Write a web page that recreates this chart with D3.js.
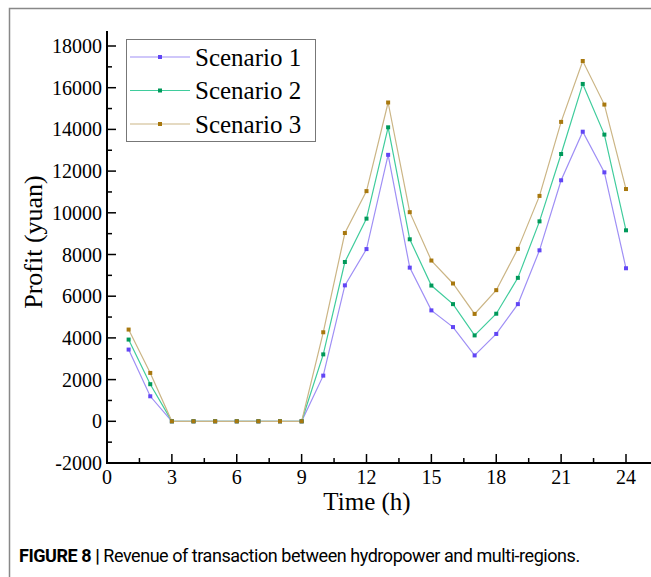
<!DOCTYPE html>
<html>
<head>
<meta charset="utf-8">
<script src="https://cdn.jsdelivr.net/npm/d3@7"></script>
<style>
	body { margin: 0; background: #fff; }
	svg { display: block; }
</style>
</head>
<body>
<div id="chart"></div>
<script>
const hours = d3.range(1, 25)
const scenario1 = [3440, 1200, 0, 0, 0, 0, 0, 0, 0, 2190, 6520, 8260, 12780, 7370, 5320, 4520, 3160, 4190, 5620, 8200, 11560, 13890, 11940, 7340]
const scenario2 = [3920, 1780, 0, 0, 0, 0, 0, 0, 0, 3210, 7640, 9720, 14100, 8730, 6510, 5620, 4120, 5160, 6880, 9590, 12820, 16180, 13750, 9160]
const scenario3 = [4400, 2320, 0, 0, 0, 0, 0, 0, 0, 4270, 9030, 11040, 15290, 10030, 7710, 6610, 5150, 6290, 8270, 10810, 14360, 17280, 15190, 11140]
const seriesNames = ["Scenario 1", "Scenario 2", "Scenario 3"]
const xTicks = [0, 3, 6, 9, 12, 15, 18, 21, 24]
const yTicks = [-2000, 0, 2000, 4000, 6000, 8000, 10000, 12000, 14000, 16000, 18000]

const lineColors = ["#9f8ff5", "#3fcc9c", "#cbb585"]
const markColors = ["#6146f5", "#00995a", "#a8780e"]

const width = 651
const height = 577
const svg = d3.select("#chart").append("svg")
	.attr("width", width)
	.attr("height", height)

// figure frame (right and bottom cut off in the original)
svg.append("path")
	.attr("d", "M9.5,577 V8.5 H651")
	.attr("fill", "none")
	.attr("stroke", "#888")
	.attr("stroke-width", 1.5)

const x = d3.scaleLinear().domain([0, 24]).range([107, 626])
const y = d3.scaleLinear().domain([-2000, 18000]).range([463, 46])

const serif = "'Liberation Serif', 'Times New Roman', serif"

// y axis
const yAxis = svg.append("g").attr("transform", `translate(${x(0)},0)`)
yAxis.append("line")
	.attr("y1", y(-2000) + 1).attr("y2", 31)
	.attr("stroke", "#000").attr("stroke-width", 2)
yAxis.selectAll(".minor")
	.data(d3.range(-1000, 19000, 2000))
	.enter().append("line")
	.attr("x1", 0).attr("x2", 5)
	.attr("y1", d => y(d)).attr("y2", d => y(d))
	.attr("stroke", "#000").attr("stroke-width", 1.5)
yAxis.selectAll(".major")
	.data(yTicks)
	.enter().append("line")
	.attr("x1", 0).attr("x2", 9)
	.attr("y1", d => y(d)).attr("y2", d => y(d))
	.attr("stroke", "#000").attr("stroke-width", 1.5)
yAxis.selectAll("text")
	.data(yTicks)
	.enter().append("text")
	.attr("x", -5)
	.attr("y", d => y(d))
	.attr("dy", "0.35em")
	.attr("text-anchor", "end")
	.attr("font-family", serif)
	.attr("font-size", 20)
	.text(d => d)

// x axis
const xAxis = svg.append("g").attr("transform", `translate(0,${y(-2000)})`)
xAxis.append("line")
	.attr("x1", x(0) - 1).attr("x2", width)
	.attr("stroke", "#000").attr("stroke-width", 2)
xAxis.selectAll(".minor")
	.data(d3.range(1.5, 25, 3))
	.enter().append("line")
	.attr("x1", d => x(d)).attr("x2", d => x(d))
	.attr("y1", 0).attr("y2", -5)
	.attr("stroke", "#000").attr("stroke-width", 1.5)
xAxis.selectAll(".major")
	.data(xTicks)
	.enter().append("line")
	.attr("x1", d => x(d)).attr("x2", d => x(d))
	.attr("y1", 0).attr("y2", -9)
	.attr("stroke", "#000").attr("stroke-width", 1.5)
xAxis.selectAll("text")
	.data(xTicks)
	.enter().append("text")
	.attr("x", d => x(d))
	.attr("y", 21)
	.attr("text-anchor", "middle")
	.attr("font-family", serif)
	.attr("font-size", 20)
	.text(d => d)

// axis titles
svg.append("text")
	.attr("transform", `translate(42,242) rotate(-90)`)
	.attr("text-anchor", "middle")
	.attr("font-family", serif)
	.attr("font-size", 26)
	.text("Profit (yuan)")
svg.append("text")
	.attr("x", 367)
	.attr("y", 510)
	.attr("text-anchor", "middle")
	.attr("font-family", serif)
	.attr("font-size", 25)
	.text("Time (h)")

// series
const allSeries = [scenario1, scenario2, scenario3]
const line = d3.line()
	.x((d, i) => x(hours[i]))
	.y(d => y(d))

allSeries.forEach((values, s) => {
	svg.append("path")
		.datum(values)
		.attr("d", line)
		.attr("fill", "none")
		.attr("stroke", lineColors[s])
		.attr("stroke-width", 1.2)
})
allSeries.forEach((values, s) => {
	svg.append("g").selectAll("rect")
		.data(values)
		.enter().append("rect")
		.attr("x", (d, i) => x(hours[i]) - 2)
		.attr("y", d => y(d) - 2)
		.attr("width", 4)
		.attr("height", 4)
		.attr("fill", markColors[s])
})

// legend
const legend = svg.append("g")
legend.append("rect")
	.attr("x", 126.5).attr("y", 39.5)
	.attr("width", 189).attr("height", 102)
	.attr("fill", "#fff")
	.attr("stroke", "#777")
	.attr("stroke-width", 1)
seriesNames.forEach((name, s) => {
	const ly = 57 + s * 33.5
	legend.append("line")
		.attr("x1", 130).attr("x2", 190)
		.attr("y1", ly).attr("y2", ly)
		.attr("stroke", lineColors[s]).attr("stroke-width", 1.2)
	legend.append("rect")
		.attr("x", 158).attr("y", ly - 2)
		.attr("width", 4).attr("height", 4)
		.attr("fill", markColors[s])
	legend.append("text")
		.attr("x", 195).attr("y", ly)
		.attr("dy", "0.35em")
		.attr("font-family", serif)
		.attr("font-size", 25)
		.text(name)
})

// caption
const caption = svg.append("text")
	.attr("x", 19)
	.attr("y", 562)
	.attr("font-family", "Roboto, 'Liberation Sans', sans-serif")
	.attr("font-size", 18)
	.attr("letter-spacing", -0.45)
caption.append("tspan")
	.attr("font-weight", "bold")
	.text("FIGURE 8 | ")
caption.append("tspan")
	.text("Revenue of transaction between hydropower and multi-regions.")
</script>
</body>
</html>
